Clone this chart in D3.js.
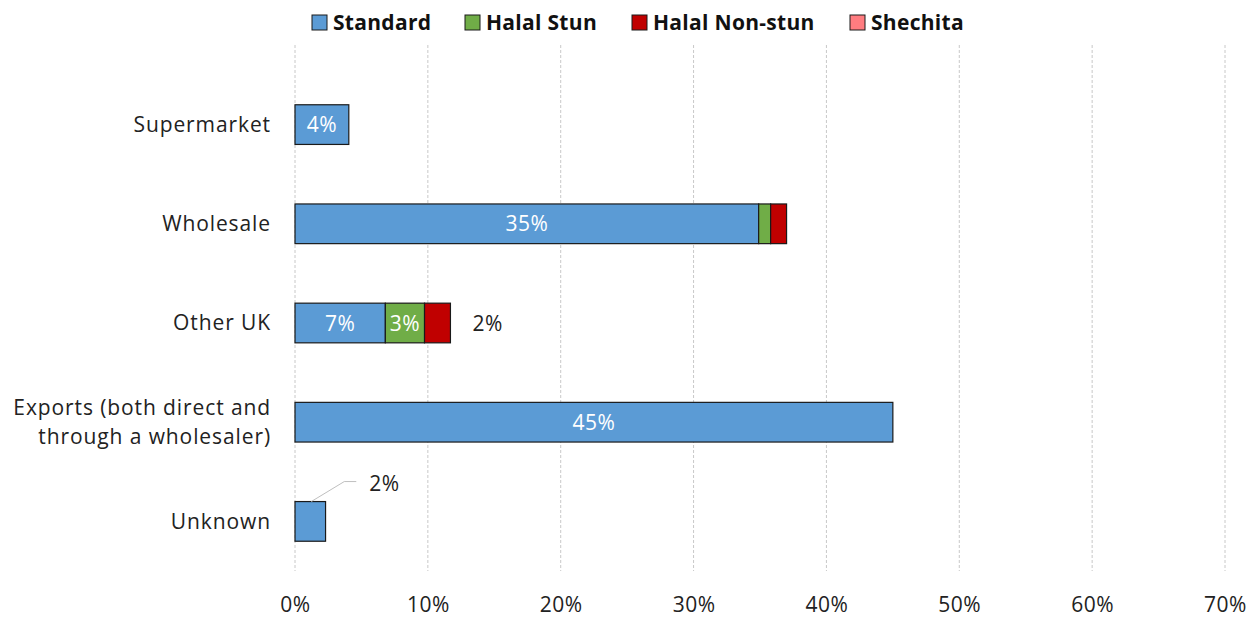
<!DOCTYPE html>
<html>
<head>
<meta charset="utf-8">
<script src="https://cdn.jsdelivr.net/npm/d3@7"></script>
<style>
  body { margin: 0; background: #fff; }
  text { font-family: "Open Sans", Lato, sans-serif; }
</style>
</head>
<body>
<div id="chart"></div>
<script>
const width = 1258;
const height = 619;

// categories top to bottom
const categories = ['Supermarket', 'Wholesale', 'Other UK', 'Exports (both direct and\nthrough a wholesaler)', 'Unknown'];
const seriesNames = ['Standard', 'Halal Stun', 'Halal Non-stun', 'Shechita'];
const seriesColors = ['#5b9bd5', '#70ad47', '#c00000', '#ff7c80'];

// values in percent, one array per series
const standard = [4.05, 34.9, 6.8, 45.0, 2.3];
const halalStun = [0, 0.9, 2.95, 0, 0];
const halalNonStun = [0, 1.2, 1.95, 0, 0];
const shechita = [0, 0, 0, 0, 0];

const xTicks = [0, 10, 20, 30, 40, 50, 60, 70];

const fontSize = 21;

let svg = d3.select('#chart').append('svg')
    .attr('width', width)
    .attr('height', height);

const margin = {left: 295, right: 1258 - 1225, top: 75, bottom: 619 - 571};

let x = d3.scaleLinear().domain([0, 70]).range([margin.left, width - margin.right]);
let y = d3.scaleBand().domain(categories).range([margin.top, height - margin.bottom]).paddingInner(0.6).paddingOuter(0.3);

// gridlines
svg.append('g').selectAll('line')
    .data(xTicks)
    .enter().append('line')
    .attr('x1', d => x(d)).attr('x2', d => x(d))
    .attr('y1', 45).attr('y2', height - margin.bottom)
    .attr('stroke', '#c8c8c8')
    .attr('stroke-width', 1)
    .attr('stroke-dasharray', '3,2');

// x axis labels
let xAxis = d3.axisBottom(x).tickValues(xTicks).tickFormat(d => d + '%').tickSize(0).tickPadding(26);
let gx = svg.append('g')
    .attr('transform', 'translate(0,' + (height - margin.bottom) + ')')
    .call(xAxis);
gx.select('.domain').remove();
gx.selectAll('text')
    .attr('font-size', fontSize)
    .attr('fill', '#222')
    .attr('letter-spacing', 0.5)
    .style('font-family', '"Open Sans", Lato, sans-serif');

// category labels
svg.append('g').selectAll('text')
    .data(categories)
    .enter().append('text')
    .attr('x', 271)
    .attr('y', d => y(d) + y.bandwidth() / 2)
    .attr('text-anchor', 'end')
    .attr('font-size', fontSize)
    .attr('letter-spacing', 0.9)
    .attr('fill', '#222')
    .each(function (d) {
      let lines = d.split('\n');
      let t = d3.select(this);
      if (lines.length === 1) {
        t.append('tspan').attr('x', 271).attr('dy', '0.35em').text(d);
      } else {
        lines.forEach((l, i) => {
          t.append('tspan')
              .attr('x', 271)
              .attr('dy', i === 0 ? -7 : 29)
              .text(l);
        });
      }
    });

// stacked data
let rows = categories.map((c, i) => ({
  cat: c,
  'Standard': standard[i],
  'Halal Stun': halalStun[i],
  'Halal Non-stun': halalNonStun[i],
  'Shechita': shechita[i]
}));
let stack = d3.stack().keys(seriesNames)(rows);

stack.forEach((layer, li) => {
  let g = svg.append('g');
  g.selectAll('rect')
      .data(layer.filter(d => d[1] - d[0] > 0))
      .enter().append('rect')
      .attr('x', d => x(d[0]))
      .attr('y', d => y(d.data.cat))
      .attr('width', d => x(d[1]) - x(d[0]))
      .attr('height', y.bandwidth())
      .attr('fill', seriesColors[li])
      .attr('stroke', '#1a1a1a')
      .attr('stroke-width', 1.2);
});

// data labels inside bars (white)
let inside = [
  {cat: 0, layer: 0}, {cat: 1, layer: 0}, {cat: 2, layer: 0}, {cat: 2, layer: 1}, {cat: 3, layer: 0}
];
svg.append('g').selectAll('text')
    .data(inside)
    .enter().append('text')
    .attr('x', d => {
      let s = stack[d.layer][d.cat];
      return (x(s[0]) + x(s[1])) / 2;
    })
    .attr('y', d => y(categories[d.cat]) + y.bandwidth() / 2)
    .attr('dy', '0.36em')
    .attr('text-anchor', 'middle')
    .attr('font-size', fontSize)
    .attr('letter-spacing', 0.5)
    .attr('fill', '#fff')
    .text(d => Math.round(stack[d.layer][d.cat].data[seriesNames[d.layer]]) + '%');

// Other UK non-stun label outside
let ou = stack[2][2];
svg.append('text')
    .attr('x', x(ou[1]) + 22)
    .attr('y', y(categories[2]) + y.bandwidth() / 2)
    .attr('dy', '0.36em')
    .attr('font-size', fontSize)
    .attr('letter-spacing', 0.5)
    .attr('fill', '#222')
    .text(Math.round(halalNonStun[2]) + '%');

// Unknown label with leader line
let uk = stack[0][4];
let ux = x(uk[1] / 2) + 1;
let uy = y(categories[4]);
svg.append('path')
    .attr('d', 'M' + ux + ',' + uy + 'L' + (ux + 33) + ',' + (uy - 20) + 'H' + (ux + 45))
    .attr('fill', 'none')
    .attr('stroke', '#bfbfbf')
    .attr('stroke-width', 1);
svg.append('text')
    .attr('x', ux + 58)
    .attr('y', uy - 18)
    .attr('dy', '0.36em')
    .attr('font-size', fontSize)
    .attr('letter-spacing', 0.5)
    .attr('fill', '#222')
    .text(Math.round(standard[4]) + '%');

// legend
const legendX = [312, 465, 632, 850];
let legend = svg.append('g').selectAll('g')
    .data(seriesNames)
    .enter().append('g')
    .attr('transform', (d, i) => 'translate(' + legendX[i] + ',15)');
legend.append('rect')
    .attr('width', 15).attr('height', 15)
    .attr('fill', (d, i) => seriesColors[i])
    .attr('stroke', '#1a1a1a')
    .attr('stroke-width', 1);
legend.append('text')
    .attr('x', 21)
    .attr('y', 7.5)
    .attr('dy', '0.36em')
    .attr('font-size', fontSize)
    .attr('font-weight', 'bold')
    .attr('letter-spacing', 0.3)
    .attr('fill', '#111')
    .text(d => d);
</script>
</body>
</html>
